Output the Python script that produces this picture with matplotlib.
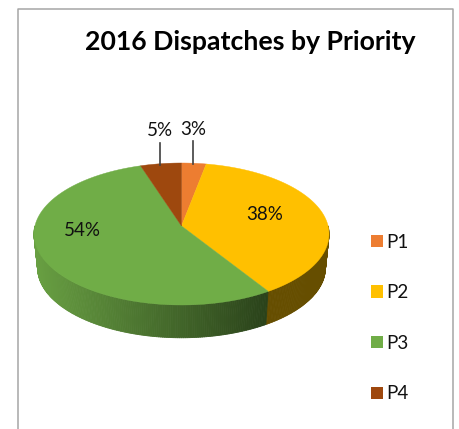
import numpy as np
import matplotlib
matplotlib.use("Agg")
import matplotlib.pyplot as plt
import matplotlib.colors as mcolors
from matplotlib.collections import PolyCollection
from matplotlib.patches import Patch

# chart data
categories = ["P1", "P2", "P3", "P4"]
values = [3, 38, 54, 5]
pct_labels = ["3%", "38%", "54%", "5%"]
colors = ["#ed7d31", "#ffc000", "#70ad47", "#9e480e"]

FONT = "Lato"
plt.rcParams["font.family"] = [FONT, "DejaVu Sans"]

# perspective view of the pie, in image pixels
CX = 181.5
APEX_Y = 226.0
K = 0.1127
TOP_A, TOP_C = 146.6, 70.1
RIM_A, RIM_C, RIM_Y = 143.0, 69.0, 260.0


def top_xy(a):
    d = 1 + K * np.cos(a)
    return CX + TOP_A * np.sin(a) / d, APEX_Y - TOP_C * np.cos(a) / d


def rim_xy(a):
    d = 1 + K * np.cos(a)
    return CX + RIM_A * np.sin(a) / d, RIM_Y - RIM_C * np.cos(a) / d


fig = plt.figure(figsize=(4.59, 4.29), dpi=100)
ax = fig.add_axes([0, 0, 1, 1])
ax.set_xlim(0, 459)
ax.set_ylim(429, 0)
ax.axis("off")

# outer frame of the chart, open at the bottom
ax.plot([17.5, 17.5, 452.7, 452.7], [429, 8.5, 8.5, 429], color="#a6a6a6", lw=1.1)

edges = np.deg2rad(np.cumsum([0] + values) * 3.6)

# side wall, only the front half is visible
side_yellow = mcolors.to_rgb("#664e00")
side_left = np.array(mcolors.to_rgb("#689f42"))
side_right = np.array(mcolors.to_rgb("#2a421a"))
aa = np.linspace(np.pi / 2, 3 * np.pi / 2, 241)
polys, fc = [], []
for a0, a1 in zip(aa[:-1], aa[1:]):
    x0, y0 = top_xy(a0)
    x1, y1 = top_xy(a1)
    x2, y2 = rim_xy(a1)
    x3, y3 = rim_xy(a0)
    polys.append([(x0, y0), (x1, y1), (x2, y2), (x3, y3)])
    if a0 < edges[2]:
        fc.append(side_yellow)
    else:
        xr = rim_xy(edges[2])[0]
        t = np.clip((xr - x3) / (xr - rim_xy(3 * np.pi / 2)[0]), 0, 1)
        fc.append(side_right + (side_left - side_right) * t)
ax.add_collection(PolyCollection(polys, facecolors=fc, edgecolors=fc, linewidths=0.6))

# top face
for i in range(len(values)):
    a = np.linspace(edges[i], edges[i + 1], 80)
    x, y = top_xy(a)
    ax.fill(np.r_[CX, x], np.r_[APEX_Y, y], color=colors[i], lw=0.3)

# leader lines for the small slices
ax.plot([193, 193], [141, 164], color="#404040", lw=1.2)
ax.plot([160, 160], [143, 165], color="#404040", lw=1.2)

lab_xy = [(193, 129.5), (265, 215), (82, 230.5), (160, 131)]
for s, (x, y) in zip(pct_labels, lab_xy):
    ax.text(x, y, s, ha="center", va="center", fontsize=13.5, color="#111111")

ax.text(250.5, 41.5, "2016 Dispatches by Priority", ha="center", va="center",
        fontsize=19.2, fontweight="bold", color="black")

handles = [Patch(facecolor=c, edgecolor="none") for c in colors]
ax.legend(handles, categories, loc="center left",
          bbox_to_anchor=(371 / 459, 1 - 318 / 429), frameon=False,
          fontsize=13.5, handlelength=0.64, handleheight=0.64, handletextpad=0.2,
          labelspacing=1.79, borderpad=0, borderaxespad=0, labelcolor="#111111")

fig.savefig("out.png", dpi=100)
